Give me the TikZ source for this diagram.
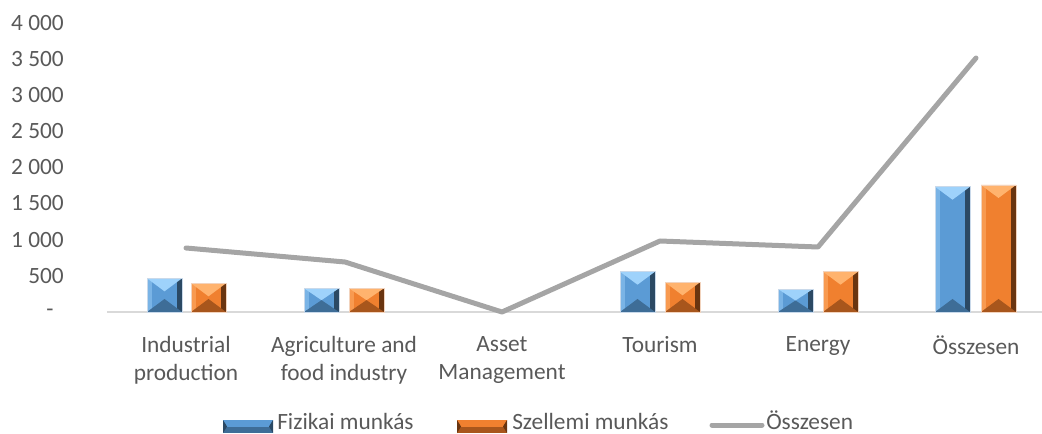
\documentclass[tikz,border=0pt]{standalone}
\usepackage{fontspec}
\setmainfont{Carlito}

\definecolor{txtgray}{HTML}{595959}
\definecolor{axisgray}{HTML}{D9D9D9}
\definecolor{linegray}{HTML}{A5A5A5}
% bar colours: blue
\definecolor{bluemain}{HTML}{5B9BD5}
\definecolor{bluetop}{HTML}{9ED2FB}
\definecolor{blueleft}{HTML}{7AB4E6}
\definecolor{blueright}{HTML}{2B4964}
\definecolor{bluebot}{HTML}{3E6D97}
\definecolor{blueedge}{HTML}{C9D9EA}
% bar colours: orange
\definecolor{orgmain}{HTML}{F0802F}
\definecolor{orgtop}{HTML}{FFB36E}
\definecolor{orgleft}{HTML}{F89A50}
\definecolor{orgright}{HTML}{6A3510}
\definecolor{orgbot}{HTML}{A8561C}
\definecolor{orgedge}{HTML}{F2D3BD}

% bevelled box: x0, y0, x1, y1, colour prefix
\newcommand{\drawbevel}[5]{%
  \pgfmathsetmacro{\bvxa}{#1}%
  \pgfmathsetmacro{\bvya}{#2}%
  \pgfmathsetmacro{\bvxb}{#3}%
  \pgfmathsetmacro{\bvyb}{#4}%
  \pgfmathsetmacro{\bvxc}{(\bvxa+\bvxb)/2}%
  \pgfmathsetmacro{\bvd}{min(13,(\bvyb-\bvya)/2)}%
  \pgfmathsetmacro{\bvs}{min(5,(\bvxb-\bvxa)/6)}%
  \fill[#5main] (\bvxa,\bvya) rectangle (\bvxb,\bvyb);
  \fill[#5left] (\bvxa,\bvya) rectangle (\bvxa+\bvs,\bvyb);
  \fill[#5right] (\bvxb-\bvs,\bvya) rectangle (\bvxb,\bvyb);
  \fill[#5top] (\bvxa,\bvya) -- (\bvxb,\bvya) -- (\bvxc,\bvya+\bvd) -- cycle;
  \fill[#5bot] (\bvxa,\bvyb) -- (\bvxb,\bvyb) -- (\bvxc,\bvyb-\bvd) -- cycle;
  \draw[#5edge,line width=0.4pt] (\bvxa,\bvya) rectangle (\bvxb,\bvyb);
}
% column standing on the axis: left x, value, colour prefix
\newcommand{\drawbar}[3]{\drawbevel{#1}{312-#2*0.07225}{#1+35}{312}{#3}}
% legend key: left x, colour prefix
\newcommand{\drawkey}[2]{%
  \fill[#2main] (#1,420) rectangle (#1+50,426.5);
  \fill[#2bot] (#1,426.5) rectangle (#1+50,433);
  \fill[#2right] (#1,420) -- (#1+4,426.5) -- (#1,433) -- cycle;
  \fill[#2right] (#1+50,420) -- (#1+46,426.5) -- (#1+50,433) -- cycle;
}

\begin{document}
\begin{tikzpicture}[
    x=0.75pt, y=-0.75pt,
    lbl/.style={text=txtgray,inner sep=0pt,font=\fontsize{17.5}{21}\selectfont},
    ylbl/.style={lbl,anchor=east},
    catlbl/.style={lbl,anchor=north,align=center},
    total/.style={linegray,line width=3.75pt,line cap=round,line join=round}
]
    \useasboundingbox (0,0) rectangle (1042,434);

    % value axis labels
    \node[ylbl] (y8) at (64,23) {4 000};
    \node[ylbl] (y7) at (64,59) {3 500};
    \node[ylbl] (y6) at (64,95) {3 000};
    \node[ylbl] (y5) at (64,131) {2 500};
    \node[ylbl] (y4) at (64,167) {2 000};
    \node[ylbl] (y3) at (64,203) {1 500};
    \node[ylbl] (y2) at (64,240) {1 000};
    \node[ylbl] (y1) at (64,276) {500};
    \node[lbl] (y0) at (50,313) {-};

    % category axis
    \draw[axisgray,line width=1.5pt] (107,312) -- (1042,312);
    \node[catlbl] (c1) at (186,336) {Industrial\\production};
    \node[catlbl] (c2) at (344,336) {Agriculture and\\food industry};
    \node[catlbl] (c3) at (502,336) {Asset\\Management};
    \node[catlbl] (c4) at (660,336) {Tourism};
    \node[catlbl] (c5) at (818,336) {Energy};
    \node[catlbl] (c6) at (976,336) {Összesen};

    % Fizikai / Szellemi columns
    \drawbar{147}{466}{blue}  \drawbar{191}{397}{org}
    \drawbar{304}{328}{blue}  \drawbar{349}{328}{org}
    \drawbar{620}{558}{blue}  \drawbar{665}{411}{org}
    \drawbar{778}{318}{blue}  \drawbar{823}{558}{org}
    \drawbar{935}{1734}{blue} \drawbar{981}{1758}{org}

    % Összesen line
    \coordinate (t1) at (186,248);
    \coordinate (t2) at (345,262);
    \coordinate (t3) at (502,312);
    \coordinate (t4) at (660,241);
    \coordinate (t5) at (818,247);
    \coordinate (t6) at (976,58);
    \draw[total] (t1) -- (t2) -- (t3) -- (t4) -- (t5) -- (t6);

    % legend
    \drawkey{223}{blue}
    \node[lbl,anchor=base west] (lg1) at (277,430) {Fizikai munkás};
    \drawkey{457}{org}
    \node[lbl,anchor=base west] (lg2) at (512,430) {Szellemi munkás};
    \coordinate (lgl) at (712,425);
    \node[lbl,anchor=base west] (lg3) at (766,430) {Összesen};
    \draw[total,shorten >=3pt] (lgl) -- (lg3.west |- lgl);
\end{tikzpicture}
\end{document}
